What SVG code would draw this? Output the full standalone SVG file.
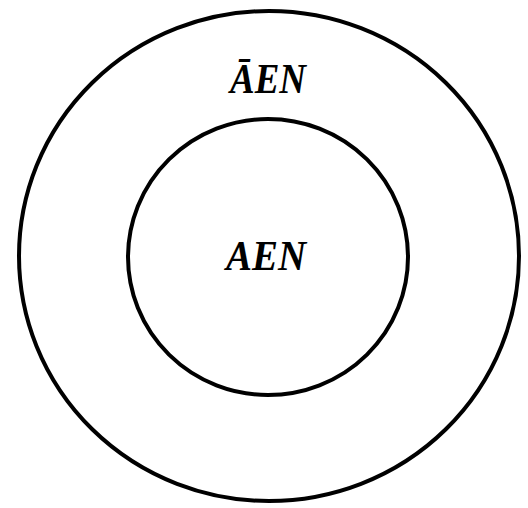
<svg xmlns="http://www.w3.org/2000/svg" width="528" height="508" viewBox="0 0 528 508">
<style>
.c{fill:none;stroke:#000;stroke-width:4}
.t{font-family:"Liberation Serif",serif;font-weight:bold;font-style:italic;font-size:42px;fill:#000;text-anchor:middle}
</style>
<rect width="528" height="508" fill="#fff"/>
<g id="outer"><ellipse class="c" cx="269" cy="256" rx="250" ry="245"/><text class="t" x="268" y="93" textLength="76" lengthAdjust="spacingAndGlyphs">ĀEN</text></g>
<g id="inner"><ellipse class="c" cx="268" cy="257" rx="140" ry="138"/><text class="t" x="266" y="270" textLength="80" lengthAdjust="spacingAndGlyphs">AEN</text></g>
<g id="connectors"/>
</svg>
